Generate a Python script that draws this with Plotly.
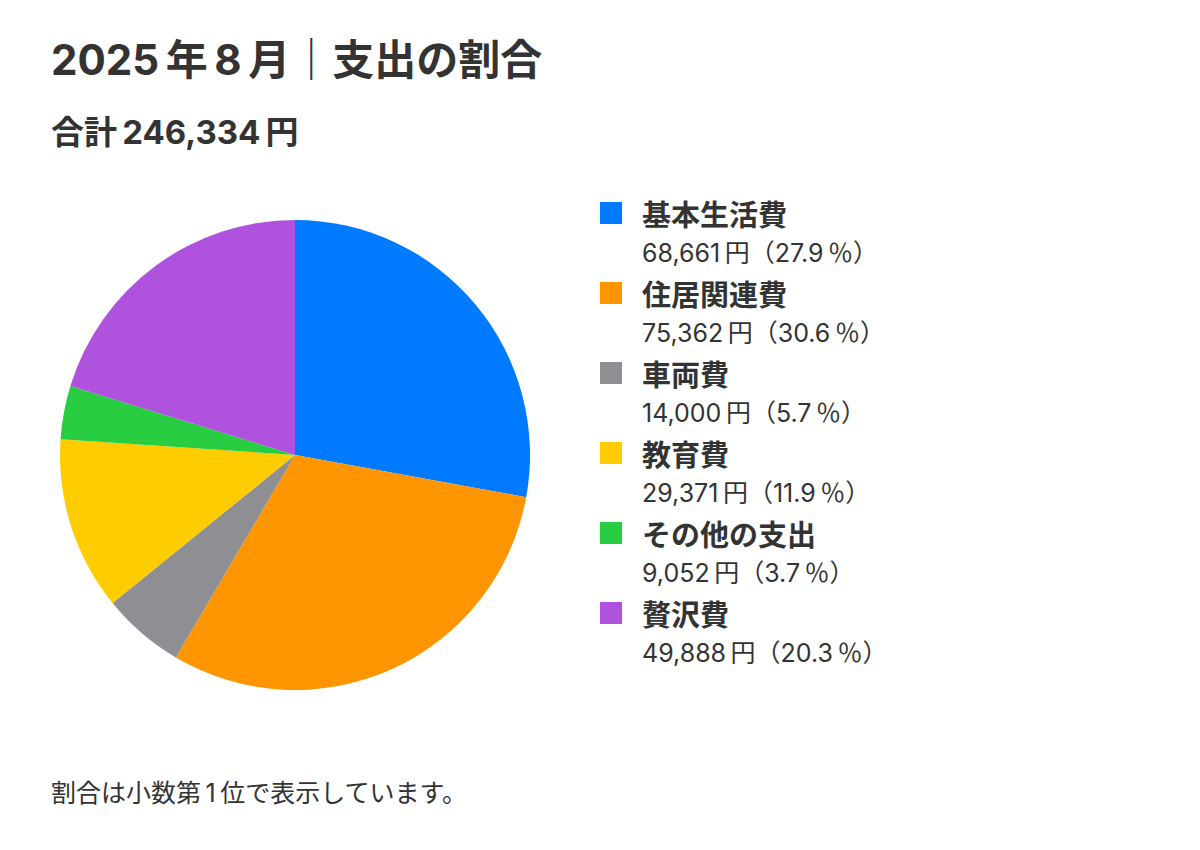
import plotly.graph_objects as go

# data
categories = ['基本生活費', '住居関連費', '車両費', '教育費', 'その他の支出', '贅沢費']
amounts = [68661, 75362, 14000, 29371, 9052, 49888]
percents = [27.9, 30.6, 5.7, 11.9, 3.7, 20.3]
colors = ['#007AFF', '#FF9500', '#8E8E93', '#FFCC00', '#28CD41', '#AF52DE']

THIN = '\u2009'
title_text = '2025' + THIN + '年' + THIN + '8' + THIN + '月｜支出の割合'
total_text = '合計' + THIN + '246,334' + THIN + '円'
note_text = '割合は小数第' + THIN + '1' + THIN + '位で表示しています。'

W, H = 1200, 850
PAGE_OFFSET = 8  # body margin of the html page
FONT = 'Inter, Noto Sans CJK JP'
TEXT_COLOR = '#333333'


def px_x(v):
    return (v - PAGE_OFFSET) / W


def px_y(v):
    return 1 - (v - PAGE_OFFSET) / H


fig = go.Figure()
fig.add_trace(go.Pie(
    labels=categories,
    values=amounts,
    marker=dict(colors=colors, line=dict(width=0)),
    sort=False,
    direction='clockwise',
    rotation=0,
    textinfo='none',
    showlegend=False,
    domain=dict(x=[px_x(60), px_x(530)], y=[px_y(690), px_y(220)]),
    hovertemplate='%{label}: %{value:,}円<extra></extra>'
))

annotations = [
    dict(text='<b>%s</b>' % title_text, x=px_x(49), y=px_y(60),
         font=dict(size=42, color=TEXT_COLOR)),
    dict(text='<b>%s</b>' % total_text, x=px_x(49), y=px_y(132),
         font=dict(size=33, color=TEXT_COLOR)),
    dict(text=note_text, x=px_x(49), y=px_y(793),
         font=dict(size=25, color=TEXT_COLOR)),
]
shapes = []

# custom legend: square + bold name + amount line
row_top = 202
row_gap = 80
for i, (cat, amt, pct, col) in enumerate(zip(categories, amounts, percents, colors)):
    top = row_top + i * row_gap
    shapes.append(dict(type='rect', xref='paper', yref='paper',
                       x0=px_x(600), x1=px_x(622), y0=px_y(top), y1=px_y(top + 22),
                       fillcolor=col, line=dict(width=0)))
    annotations.append(dict(text='<b>%s</b>' % cat, x=px_x(640), y=px_y(top + 13),
                            font=dict(size=29, color=TEXT_COLOR)))
    value_line = '{:,}'.format(amt) + THIN + '円（' + str(pct) + THIN + '％）'
    annotations.append(dict(text=value_line, x=px_x(640), y=px_y(top + 51),
                            font=dict(size=25, color=TEXT_COLOR)))

for a in annotations:
    a.update(xref='paper', yref='paper', xanchor='left', yanchor='middle', showarrow=False)

fig.update_layout(
    width=W,
    height=H,
    margin=dict(l=0, r=0, t=0, b=0),
    paper_bgcolor='white',
    plot_bgcolor='white',
    font=dict(family=FONT, color=TEXT_COLOR),
    annotations=annotations,
    shapes=shapes,
)
fig.write_html('out.html')
